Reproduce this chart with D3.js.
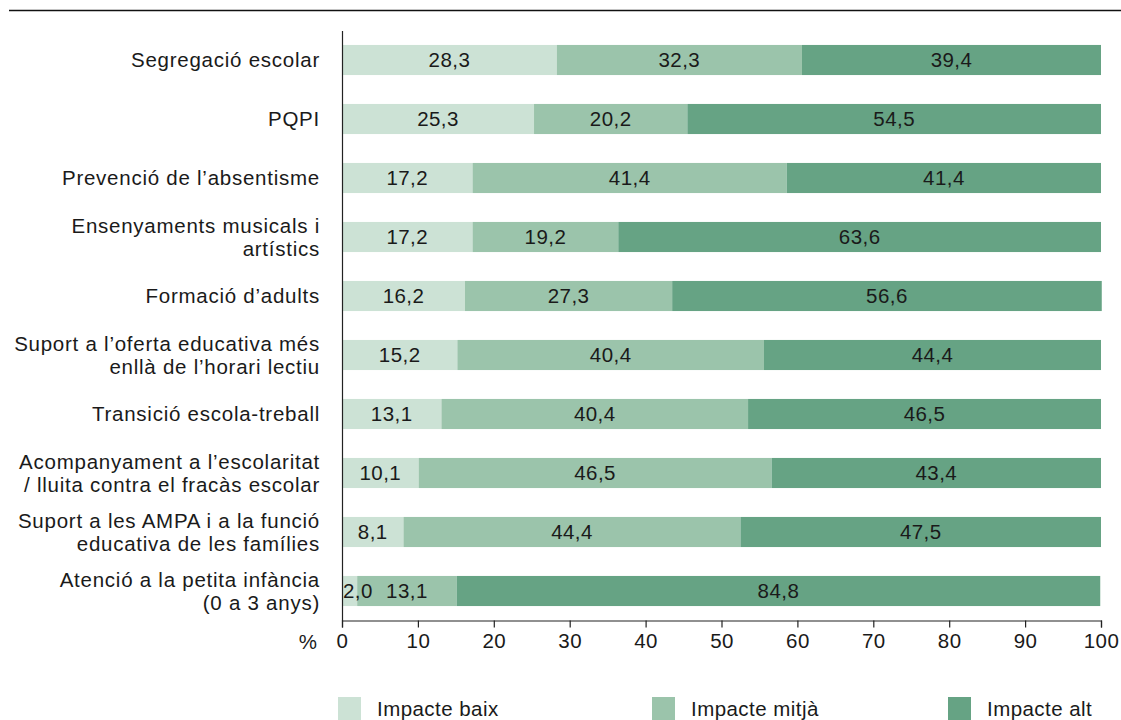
<!DOCTYPE html>
<html>
<head>
<meta charset="utf-8">
<script src="https://cdn.jsdelivr.net/npm/d3@7"></script>
<style>
  html, body { margin: 0; padding: 0; background: #fff; }
  svg text { font-family: "Liberation Sans", Arial, Helvetica, sans-serif; fill: #1a1a1a; }
</style>
</head>
<body>
<svg id="chart" width="1121" height="720"></svg>
<script>
// Programes educatius: percentatge segons l'impacte percebut
const categories = [
  ["Segregació escolar"],
  ["PQPI"],
  ["Prevenció de l’absentisme"],
  ["Ensenyaments musicals i", "artístics"],
  ["Formació d’adults"],
  ["Suport a l’oferta educativa més", "enllà de l’horari lectiu"],
  ["Transició escola-treball"],
  ["Acompanyament a l’escolaritat", "/ lluita contra el fracàs escolar"],
  ["Suport a les AMPA i a la funció", "educativa de les famílies"],
  ["Atenció a la petita infància", "(0 a 3 anys)"]
];
const impacteBaix  = [28.3, 25.3, 17.2, 17.2, 16.2, 15.2, 13.1, 10.1, 8.1, 2.0];
const impacteMitja = [32.3, 20.2, 41.4, 19.2, 27.3, 40.4, 40.4, 46.5, 44.4, 13.1];
const impacteAlt   = [39.4, 54.5, 41.4, 63.6, 56.6, 44.4, 46.5, 43.4, 47.5, 84.8];
const seriesNames  = ["Impacte baix", "Impacte mitjà", "Impacte alt"];
const seriesColors = ["#cce2d5", "#9bc4ab", "#66a384"];
const xTicks = [0, 10, 20, 30, 40, 50, 60, 70, 80, 90, 100];

const FS = 20.5;          // font size for all text
const LS = "0.45px";      // letter spacing for numbers and legend
const LS_CAT = "0.75px";  // letter spacing for category names

const svg = d3.select("#chart");
const fmt = v => v.toFixed(1).replace(".", ",");

const rows = categories.map((c, i) => ({
  key: i, label: c,
  baix: impacteBaix[i], mitja: impacteMitja[i], alt: impacteAlt[i]
}));
const keys = ["baix", "mitja", "alt"];
const stacked = d3.stack().keys(keys)(rows);

const x = d3.scaleLinear().domain([0, 100]).range([342, 1101]);
const y = d3.scaleBand().domain(rows.map(r => r.key)).range([30.5, 620.5]).paddingInner(0.49).paddingOuter(0.245);

// Rule at the top
svg.append("line").attr("x1", 9).attr("x2", 1121).attr("y1", 10.5).attr("y2", 10.5)
  .attr("stroke", "#111").attr("stroke-width", 1.4);

// Bars
const layers = svg.append("g").selectAll("g").data(stacked).join("g")
  .attr("fill", (d, i) => seriesColors[i]);
layers.selectAll("rect").data(d => d).join("rect")
  .attr("x", d => x(d[0]))
  .attr("y", d => y(d.data.key))
  .attr("width", d => x(d[1]) - x(d[0]))
  .attr("height", y.bandwidth());

// Value labels
const labelLayers = svg.append("g").selectAll("g").data(stacked).join("g");
labelLayers.selectAll("text").data(d => d.map(s => ({ s, key: d.key }))).join("text")
  .attr("x", d => {
    const w = x(d.s[1]) - x(d.s[0]);
    return w < 20 ? x(d.s[0]) + 1 : (x(d.s[0]) + x(d.s[1])) / 2;
  })
  .attr("y", d => y(d.s.data.key) + y.bandwidth() / 2)
  .attr("dy", "0.36em")
  .attr("text-anchor", d => (x(d.s[1]) - x(d.s[0]) < 20 ? "start" : "middle"))
  .attr("font-size", FS).attr("letter-spacing", LS)
  .text(d => fmt(d.s.data[d.key]));

// Category labels
const catG = svg.append("g");
rows.forEach(r => {
  const cy = y(r.key) + y.bandwidth() / 2;
  const n = r.label.length;
  const t = catG.append("text").attr("text-anchor", "end")
    .attr("font-size", FS).attr("letter-spacing", LS_CAT);
  r.label.forEach((line, j) => {
    t.append("tspan").attr("x", 320)
      .attr("y", cy + (j - (n - 1) / 2) * 23)
      .attr("dy", "0.36em")
      .text(line);
  });
});

// Left axis line
svg.append("line").attr("x1", 342.5).attr("x2", 342.5).attr("y1", 31).attr("y2", 621)
  .attr("stroke", "#222").attr("stroke-width", 1.2);

// Bottom axis
const axisG = svg.append("g").attr("transform", "translate(0,620.5)")
  .call(d3.axisBottom(x).tickValues(xTicks).tickSize(7).tickPadding(6).tickFormat(d3.format("d")));
axisG.select(".domain").attr("stroke", "#222").attr("stroke-width", 1.2);
axisG.selectAll(".tick line").attr("stroke", "#222").attr("stroke-width", 1.2);
axisG.selectAll(".tick text").attr("font-size", FS).attr("letter-spacing", LS).attr("fill", "#1a1a1a")
  .attr("font-family", "Liberation Sans, Arial, sans-serif");
svg.append("text").attr("x", 317).attr("y", 649).attr("text-anchor", "end")
  .attr("font-size", FS).text("%");

// Legend
const legendX = [338, 652, 948];
const legend = svg.append("g").selectAll("g").data(seriesNames).join("g")
  .attr("transform", (d, i) => `translate(${legendX[i]},697)`);
legend.append("rect").attr("width", 23).attr("height", 23)
  .attr("fill", (d, i) => seriesColors[i]);
legend.append("text").attr("x", 39).attr("y", 11.5).attr("dy", "0.36em")
  .attr("font-size", FS).attr("letter-spacing", LS).text(d => d);
</script>
</body>
</html>
